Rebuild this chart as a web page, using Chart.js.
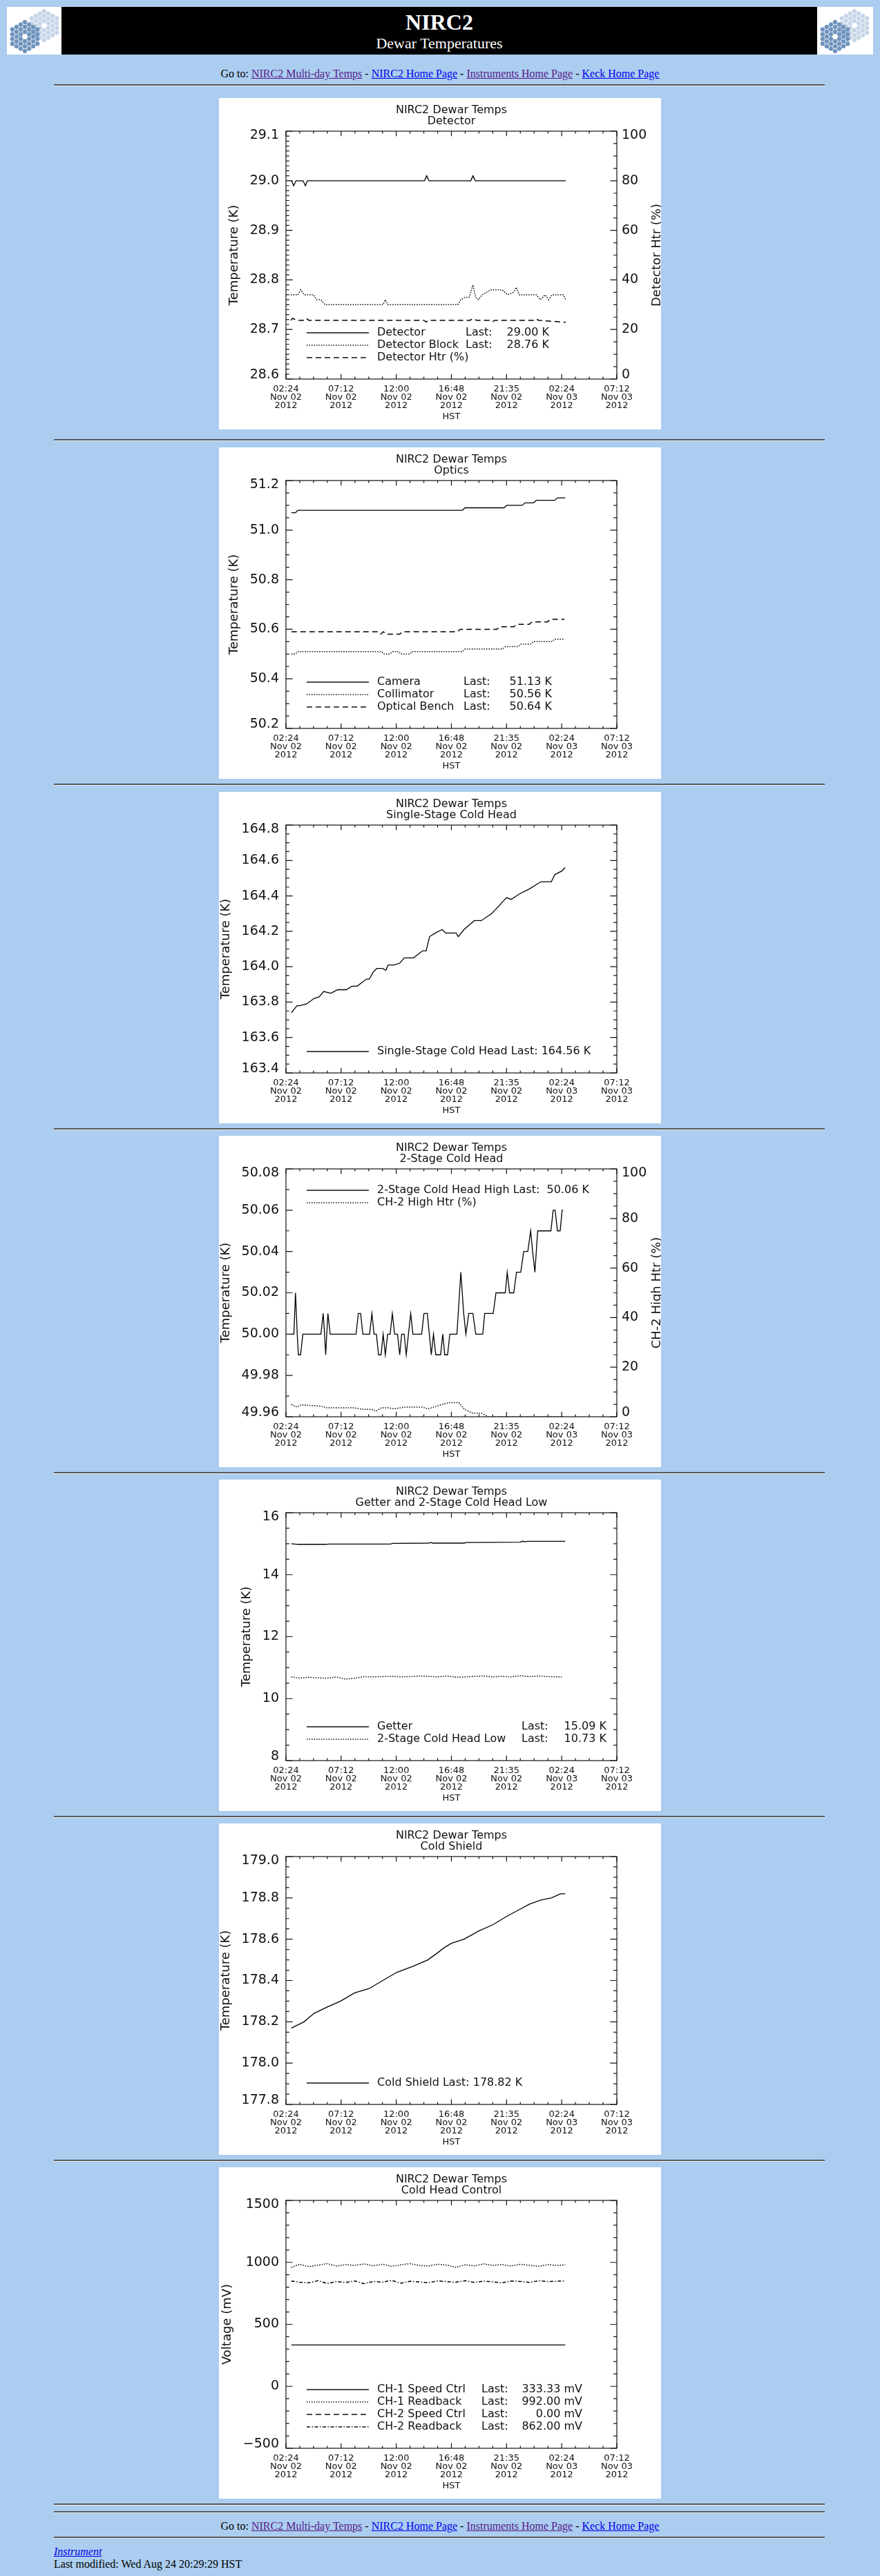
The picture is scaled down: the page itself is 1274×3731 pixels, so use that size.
<!DOCTYPE html>
<html>
<head>
<meta charset="utf-8">
<title>NIRC2 Dewar Temperatures</title>
<script src="https://cdn.jsdelivr.net/npm/chart.js@4.4.1/dist/chart.umd.min.js"></script>
<style>
  body { margin: 0; background: #abcdef; font-family: "Liberation Serif", "Times New Roman", serif; color: #000; }
  #page { position: relative; width: 1274px; height: 3731px; overflow: hidden; }
  .hr { position: absolute; left: 78px; width: 1116px; height: 1px; background: #6a6a6a; border-top: 1px solid #4a4a4a; border-bottom: 1px solid #e4ecf6; }
  .goto { position: absolute; left: 0; width: 1274px; height: 20px; line-height: 20px; text-align: center; font-size: 16px; }
  a { text-decoration: underline; }
  a.v { color: #551a8b; }
  a.u { color: #0000ee; }
  canvas.panel { position: absolute; left: 317px; }
  .logo { position: absolute; top: 10px; }
  #bar { position: absolute; left: 89px; top: 10px; width: 1094px; height: 69px; background: #000; color: #fff; text-align: center; }
</style>
</head>
<body>
<div id="page">
  <canvas class="logo" id="logoL" width="79" height="69" style="left:10px"></canvas>
  <div id="bar">
    <div style="position:absolute;left:0;right:0;top:4px;height:36px;line-height:36px;font-size:32px;font-weight:bold;">NIRC2</div>
    <div style="position:absolute;left:0;right:0;top:41px;height:24px;line-height:24px;font-size:22px;">Dewar Temperatures</div>
  </div>
  <canvas class="logo" id="logoR" width="81" height="69" style="left:1183px"></canvas>

  <div class="goto" style="top:97px">Go to: <a class="v" href="#">NIRC2 Multi-day Temps</a> - <a class="u" href="#">NIRC2 Home Page</a> - <a class="v" href="#">Instruments Home Page</a> - <a class="u" href="#">Keck Home Page</a></div>
  <div class="hr" style="top:122px"></div>

  <canvas class="panel" id="c1" width="640" height="480" style="top:142px"></canvas>
  <div class="hr" style="top:636px"></div>
  <canvas class="panel" id="c2" width="640" height="480" style="top:648px"></canvas>
  <div class="hr" style="top:1135px"></div>
  <canvas class="panel" id="c3" width="640" height="480" style="top:1147px"></canvas>
  <div class="hr" style="top:1634px"></div>
  <canvas class="panel" id="c4" width="640" height="480" style="top:1645px"></canvas>
  <div class="hr" style="top:2132px"></div>
  <canvas class="panel" id="c5" width="640" height="480" style="top:2143px"></canvas>
  <div class="hr" style="top:2630px"></div>
  <canvas class="panel" id="c6" width="640" height="480" style="top:2641px"></canvas>
  <div class="hr" style="top:3128px"></div>
  <canvas class="panel" id="c7" width="640" height="480" style="top:3139px"></canvas>
  <div class="hr" style="top:3626px"></div>
  <div class="hr" style="top:3637px"></div>

  <div class="goto" style="top:3649px">Go to: <a class="v" href="#">NIRC2 Multi-day Temps</a> - <a class="u" href="#">NIRC2 Home Page</a> - <a class="v" href="#">Instruments Home Page</a> - <a class="u" href="#">Keck Home Page</a></div>
  <div class="hr" style="top:3674px"></div>
  <div style="position:absolute;left:78px;top:3686px;height:20px;line-height:20px;font-size:16px;font-style:italic;"><a class="u" href="#">Instrument</a></div>
  <div style="position:absolute;left:78px;top:3704px;height:20px;line-height:20px;font-size:16px;">Last modified: Wed Aug 24 20:29:29 HST</div>
</div>

<script>
const INK = "#111";
const FONT = '"DejaVu Sans", "Liberation Sans", sans-serif';

// x axis is hours after 02:24 HST, Nov 02 2012
const xTickHours = [0, 4.8, 9.6, 14.4, 19.2, 24.0, 28.8];
const xTickLabels = [
  ["02:24", "Nov 02", "2012"], ["07:12", "Nov 02", "2012"], ["12:00", "Nov 02", "2012"],
  ["16:48", "Nov 02", "2012"], ["21:35", "Nov 02", "2012"], ["02:24", "Nov 03", "2012"],
  ["07:12", "Nov 03", "2012"]
];
const pctTicks = ["0", "20", "40", "60", "80", "100"];

// Detector
const detTicks = ["28.6", "28.7", "28.8", "28.9", "29.0", "29.1"];
const detT = [0.42, 0.50, 0.67, 0.87, 1.49, 1.69, 1.86, 12.05, 12.25, 12.45, 16.08, 16.28, 16.48, 24.35];
const detV = [29.00, 29.00, 28.99, 29.00, 29.00, 28.99, 29.00, 29.00, 29.01, 29.00, 29.00, 29.01, 29.00, 29.00];
const blkT = [0.42, 1.04, 1.29, 1.59, 2.41, 2.66, 3.03, 3.40, 8.45, 8.65, 8.87, 14.96, 15.21, 15.58, 15.95, 16.28, 16.50,
  16.75, 17.07, 17.45, 17.82, 18.81, 19.31, 19.81, 20.05, 20.30, 20.68, 21.79, 22.16, 22.54, 22.86, 23.16, 24.15, 24.35];
const blkV = [28.77, 28.77, 28.78, 28.77, 28.77, 28.76, 28.76, 28.75, 28.75, 28.76, 28.75, 28.75, 28.76, 28.765, 28.765, 28.79, 28.765,
  28.76, 28.77, 28.775, 28.78, 28.78, 28.77, 28.775, 28.785, 28.77, 28.77, 28.77, 28.76, 28.77, 28.76, 28.77, 28.77, 28.76];
const dhtrT = [0.42, 0.6, 0.9, 1.5, 1.75, 2.0, 12.0, 12.2, 12.4, 16.0, 16.3, 16.6, 17.8, 18.0, 18.2, 21.6, 21.8, 22.0, 24.35];
const dhtrV = [23.7, 24.5, 23.7, 23.7, 24.5, 23.7, 23.7, 23.0, 23.7, 23.7, 24.3, 23.7, 23.7, 23.2, 23.7, 23.7, 24.2, 23.7, 22.9];

// Optics
const optTicks = ["50.2", "50.4", "50.6", "50.8", "51.0", "51.2"];
const camT = [0.47, 0.83, 1.03, 15.34, 15.59, 18.97, 19.22, 20.56, 20.81, 21.54, 21.79, 23.38, 23.63, 24.31];
const camV = [51.07, 51.07, 51.08, 51.08, 51.09, 51.09, 51.10, 51.10, 51.11, 51.11, 51.12, 51.12, 51.13, 51.13];
const colT = [0.47, 0.83, 1.03, 8.31, 8.55, 9.04, 9.29, 9.78, 10.02, 10.76, 11.0, 15.34, 15.59, 18.85, 19.09, 20.2, 20.44,
  21.3, 21.54, 23.14, 23.38, 24.17];
const colV = [50.50, 50.50, 50.51, 50.51, 50.50, 50.50, 50.51, 50.51, 50.50, 50.50, 50.51, 50.51, 50.52, 50.52, 50.53, 50.53, 50.54,
  50.54, 50.55, 50.55, 50.56, 50.56];
const benT = [0.47, 7.94, 8.24, 8.48, 8.73, 9.9, 10.15, 14.93, 15.17, 18.36, 18.6, 19.83, 20.07, 21.18, 21.42, 22.77, 23.01, 24.24];
const benV = [50.59, 50.59, 50.58, 50.59, 50.58, 50.58, 50.59, 50.59, 50.60, 50.60, 50.61, 50.61, 50.62, 50.62, 50.63, 50.63, 50.64, 50.64];

// Single-stage cold head
const sscTicks = ["163.4", "163.6", "163.8", "164.0", "164.2", "164.4", "164.6", "164.8"];
const sscT = [0.47, 0.96, 1.2, 1.81, 2.43, 2.9, 3.28, 3.9, 4.5, 5.25, 5.74, 6.2, 7.0, 7.25, 7.6, 7.9, 8.4, 8.7, 8.9, 9.4,
  9.9, 10.3, 11.1, 11.9, 12.2, 12.5, 13.0, 13.6, 13.9, 14.8, 15.0, 15.5, 16.4, 17.0, 17.9, 18.2, 19.2, 19.6, 20.3, 21.2,
  22.2, 23.1, 23.4, 24.0, 24.3];
const sscV = [163.74, 163.78, 163.78, 163.79, 163.82, 163.83, 163.86, 163.85, 163.87, 163.87, 163.89, 163.89, 163.93, 163.93, 163.97, 163.99, 163.99, 163.98, 164.01, 164.01,
  164.02, 164.05, 164.05, 164.09, 164.09, 164.17, 164.19, 164.21, 164.19, 164.19, 164.17, 164.21, 164.26, 164.26, 164.30, 164.32, 164.39, 164.38, 164.41, 164.44,
  164.48, 164.48, 164.52, 164.54, 164.56];

// 2-stage cold head
const tscTicks = ["49.96", "49.98", "50.00", "50.02", "50.04", "50.06", "50.08"];
const tscT = [0.47, 0.69, 0.83, 0.98, 1.08, 1.27, 1.47, 3.04, 3.24, 3.36,
  3.46, 3.55, 3.65, 3.85, 6.10, 6.30, 6.50, 6.69, 7.28, 7.48,
  7.67, 7.87, 8.06, 8.28, 8.46, 8.65, 8.85, 9.07, 9.26, 9.46,
  9.71, 9.90, 10.07, 10.29, 10.47, 10.66, 10.86, 11.05, 11.81, 12.01,
  12.30, 12.48, 12.65, 12.84, 13.04, 13.46, 13.65, 13.82, 14.07, 14.26,
  14.88, 15.22, 15.47, 15.66, 15.91, 16.27, 16.52, 17.13, 17.30, 18.04,
  18.28, 19.09, 19.26, 19.46, 19.83, 20.07, 20.44, 20.69, 21.05, 21.30,
  21.47, 21.67, 21.91, 23.06, 23.26, 23.43, 23.63, 23.87, 24.04, 24.12];
const tscV = [50.00, 50.00, 50.02, 50.00, 49.99, 49.99, 50.00, 50.00, 50.01, 50.00,
  49.99, 50.00, 50.01, 50.00, 50.00, 50.01, 50.01, 50.00, 50.00, 50.01,
  50.00, 50.00, 49.99, 49.99, 50.00, 49.99, 50.00, 50.00, 50.01, 50.00,
  50.00, 49.99, 50.00, 50.00, 49.99, 50.00, 50.01, 50.00, 50.00, 50.01,
  50.01, 50.00, 49.99, 50.00, 49.99, 49.99, 50.00, 49.99, 49.99, 50.00,
  50.00, 50.03, 50.01, 50.00, 50.01, 50.01, 50.00, 50.00, 50.01, 50.01,
  50.02, 50.02, 50.03, 50.02, 50.02, 50.03, 50.03, 50.04, 50.04, 50.05,
  50.04, 50.03, 50.05, 50.05, 50.06, 50.06, 50.05, 50.05, 50.06, 50.06];
const chtrT = [0.47, 0.96, 1.32, 3.04, 3.53, 5.98, 6.72, 7.45, 7.82, 8.31, 8.92, 9.41, 10.39, 11.86, 12.35, 13.08, 13.82,
  14.31, 15.05, 15.54, 16.27, 17.01, 17.25, 17.62, 24.17];
const chtrV = [5.0, 3.9, 4.8, 4.3, 3.6, 3.6, 3.0, 3.0, 2.3, 3.6, 3.6, 3.2, 3.9, 3.9, 3.2, 4.2, 5.3,
  5.7, 5.7, 3.0, 1.4, 1.4, 0.9, 0, 0];

// Getter and 2-stage cold head low
const getTicks = ["8", "10", "12", "14", "16"];
const getT = [0.47, 1.0, 3.5, 3.7, 9.1, 9.3, 12.4, 12.6, 12.8, 15.5, 15.7, 20.4, 20.6, 20.9, 21.0, 24.3];
const getV = [15.00, 14.98, 14.98, 14.99, 14.99, 15.01, 15.02, 15.04, 15.02, 15.02, 15.04, 15.05, 15.08, 15.06, 15.08, 15.08];
const lowT = [0.47, 1.2, 2.0, 2.8, 3.6, 4.4, 5.2, 6.0, 6.8, 7.6, 8.4, 9.2, 10.0, 10.8, 11.6, 12.4, 13.2, 14.0, 14.8, 15.6,
  16.4, 17.2, 18.0, 18.8, 19.6, 20.4, 21.2, 22.0, 22.8, 23.6, 24.0];
const lowV = [10.70, 10.66, 10.69, 10.67, 10.66, 10.70, 10.63, 10.66, 10.71, 10.70, 10.71, 10.72, 10.70, 10.71, 10.73, 10.72, 10.70, 10.73, 10.69, 10.70,
  10.72, 10.73, 10.70, 10.72, 10.70, 10.74, 10.71, 10.73, 10.71, 10.70, 10.70];

// Cold shield
const shTicks = ["177.8", "178.0", "178.2", "178.4", "178.6", "178.8", "179.0"];
const shT = [0.47, 1.57, 2.43, 3.53, 4.75, 5.98, 7.2, 8.43, 9.66, 11.1, 12.35, 13.1, 13.8, 14.4, 15.5, 16.8, 18.0, 19.2,
  20.2, 21.2, 22.2, 23.1, 23.9, 24.3];
const shV = [178.17, 178.20, 178.24, 178.27, 178.30, 178.34, 178.36, 178.40, 178.44, 178.47, 178.50, 178.53, 178.56, 178.58, 178.60, 178.64, 178.67, 178.71,
  178.74, 178.77, 178.79, 178.80, 178.82, 178.82];

// Cold head control
const volTicks = ["\u2212500", "0", "500", "1000", "1500"];
const ch1sT = [0.47, 24.31];
const ch1sV = [333.33, 333.33];
const ch2sT = [];
const ch2sV = [];
const rdT = [0.47, 1.2, 2.0, 2.8, 3.6, 4.4, 5.2, 6.0, 6.8, 7.6, 8.4, 9.2, 10.0, 10.8, 11.6, 12.4, 13.2, 14.0, 14.8, 15.6,
  16.4, 17.2, 18.0, 18.8, 19.6, 20.4, 21.2, 22.0, 22.8, 23.6, 24.31];
const ch1rV = [960, 985, 965, 978, 990, 970, 982, 975, 988, 972, 985, 968, 980, 990, 975, 970, 985, 978, 960, 980,
  972, 988, 975, 982, 970, 985, 976, 968, 982, 975, 980];
const ch2rV = [850, 840, 835, 852, 830, 845, 838, 850, 828, 846, 840, 855, 832, 848, 842, 836, 850, 845, 840, 852,
  838, 848, 843, 835, 850, 846, 838, 852, 845, 848, 850];

const SOLID = [], DOTTED = [1.5, 2], DASHED = [8, 5], DASHDOT = [5, 2.5, 1.5, 2.5];

Chart.defaults.font.family = FONT;
Chart.defaults.color = INK;

const num = s => parseFloat(s.replace("\u2212", "-"));
const pts = (t, v) => t.map((x, i) => ({ x: x, y: v[i] }));

function minorVals(major, n) {
  const out = [];
  for (let k = 0; k < major.length - 1; k++)
    for (let j = 1; j < n; j++) out.push(major[k] + (major[k + 1] - major[k]) * j / n);
  return out;
}

// IDL-style box, inward ticks, axis labels, titles and legend
function frame(cfg) {
  return {
    id: "frame",
    beforeDraw(chart) {
      const c = chart.ctx;
      c.save();
      c.fillStyle = "#fff";
      c.fillRect(0, 0, chart.width, chart.height);
      c.restore();
    },
    afterDraw(chart) {
      const c = chart.ctx, a = chart.chartArea;
      const sx = chart.scales.x, sy = chart.scales.y, sr = chart.scales.y1 || sy;
      const w = a.right - a.left, h = a.bottom - a.top;
      const yLen = 0.02 * w, xLen = 0.02 * h;
      c.save();
      c.strokeStyle = INK;
      c.lineWidth = 1.2;
      c.setLineDash([]);
      c.strokeRect(a.left, a.top, w, h);
      c.beginPath();
      const xt = (vals, len) => vals.forEach(v => {
        const p = sx.getPixelForValue(v);
        c.moveTo(p, a.bottom); c.lineTo(p, a.bottom - len);
        c.moveTo(p, a.top); c.lineTo(p, a.top + len);
      });
      xt(xTickHours, xLen);
      xt(minorVals(xTickHours, 4), xLen / 2);
      const yt = (sc, vals, len, right) => vals.forEach(v => {
        const p = sc.getPixelForValue(v);
        const x0 = right ? a.right : a.left;
        c.moveTo(x0, p); c.lineTo(x0 + (right ? -len : len), p);
      });
      const yMaj = cfg.yLabels.map(num);
      const rMaj = (cfg.y1Labels || cfg.yLabels).map(num);
      yt(sy, yMaj, yLen, false);
      yt(sy, minorVals(yMaj, cfg.yMinor), yLen / 2, false);
      yt(sr, rMaj, yLen, true);
      yt(sr, minorVals(rMaj, cfg.y1Labels ? 4 : cfg.yMinor), yLen / 2, true);
      c.stroke();

      c.fillStyle = INK;
      const cx = (a.left + a.right) / 2, cy = (a.top + a.bottom) / 2;

      // y tick labels; the end labels sit inside the axis range as IDL draws them
      c.font = "19px " + FONT;
      c.textBaseline = "middle";
      const yLab = (sc, labels, x, align) => {
        c.textAlign = align;
        labels.forEach((s, i) => {
          const shift = i === 0 ? -6 : (i === labels.length - 1 ? 6 : 0);
          c.fillText(s, x, sc.getPixelForValue(num(s)) + shift);
        });
      };
      yLab(sy, cfg.yLabels, a.left - 10, "right");
      if (cfg.y1Labels) yLab(sr, cfg.y1Labels, a.right + 7, "left");
      const maxW = Math.max(...cfg.yLabels.map(s => c.measureText(s).width));

      c.textAlign = "center";
      c.font = "16px " + FONT;
      c.fillText(cfg.title[0], cx, 18);
      c.fillText(cfg.title[1], cx, 34);
      c.font = "13px " + FONT;
      c.fillText("HST", cx, 462);

      // y titles
      c.font = "18px " + FONT;
      c.save();
      c.translate(a.left - 10 - maxW - 22, cy);
      c.rotate(-Math.PI / 2);
      c.fillText(cfg.yTitle, 0, 0);
      c.restore();
      if (cfg.y1Title) {
        c.save();
        c.translate(639, cy);
        c.rotate(-Math.PI / 2);
        c.textBaseline = "alphabetic";
        c.fillText(cfg.y1Title, 0, 0);
        c.restore();
      }

      // legend
      const lg = cfg.legend, n = lg.rows.length;
      c.font = "16px " + FONT;
      c.lineWidth = 1.3;
      lg.rows.forEach((r, i) => {
        const y = lg.pos === "top" ? 79 + i * 18 : 376 - (n - 1 - i) * 18;
        c.setLineDash(r.dash);
        c.beginPath();
        c.moveTo(127, y); c.lineTo(217, y);
        c.stroke();
        c.textAlign = "left";
        c.fillText(r.name, 229, y);
        if (r.last) {
          c.fillText("Last:", lg.lastX, y);
          c.textAlign = "right";
          c.fillText(r.last, lg.valEnd, y);
        }
      });
      c.restore();
    }
  };
}

function makeChart(cfg) {
  const datasets = cfg.series.filter(s => s.t.length).map(s => ({
    data: pts(s.t, s.v),
    yAxisID: s.axis || "y",
    borderColor: "#000",
    borderWidth: s.dash.length ? 1.5 : 1.3,
    borderDash: s.dash,
    pointRadius: 0,
    tension: 0,
    fill: false
  }));
  const yFirst = num(cfg.yLabels[0]), yLast = num(cfg.yLabels[cfg.yLabels.length - 1]);
  const scales = {
    x: {
      type: "linear", min: 0, max: 28.8,
      grid: { display: false, drawTicks: false }, border: { display: false },
      afterBuildTicks: s => { s.ticks = xTickHours.map(v => ({ value: v })); },
      afterFit: s => { s.height = 73; },
      ticks: {
        autoSkip: false, maxRotation: 0, padding: 9, color: INK,
        font: { family: FONT, size: 13, lineHeight: 0.9 },
        callback: (v, i) => xTickLabels[i]
      }
    },
    y: {
      type: "linear", position: "left", min: yFirst, max: yLast,
      grid: { display: false, drawTicks: false }, border: { display: false },
      afterBuildTicks: s => { s.ticks = cfg.yLabels.map(l => ({ value: num(l) })); },
      afterFit: s => { s.width = 97; },
      ticks: { display: false }
    }
  };
  if (cfg.y1Labels) {
    scales.y1 = {
      type: "linear", position: "right", min: 0, max: 100,
      grid: { display: false, drawTicks: false }, border: { display: false },
      afterBuildTicks: s => { s.ticks = cfg.y1Labels.map(l => ({ value: num(l) })); },
      afterFit: s => { s.width = 64; },
      ticks: { display: false }
    };
  }
  new Chart(document.getElementById(cfg.id), {
    type: "line",
    data: { datasets: datasets },
    options: {
      responsive: false,
      animation: false,
      events: [],
      layout: { padding: { top: 48, left: 0, bottom: 0, right: cfg.y1Labels ? 0 : 64 } },
      plugins: { legend: { display: false }, tooltip: { enabled: false } },
      scales: scales
    },
    plugins: [frame(cfg)]
  });
}

makeChart({
  id: "c1", title: ["NIRC2 Dewar Temps", "Detector"],
  yTitle: "Temperature (K)", yLabels: detTicks, yMinor: 10,
  y1Title: "Detector Htr (%)", y1Labels: pctTicks,
  series: [
    { t: detT, v: detV, dash: SOLID },
    { t: blkT, v: blkV, dash: DOTTED },
    { t: dhtrT, v: dhtrV, dash: DASHED, axis: "y1" }
  ],
  legend: { pos: "bottom", lastX: 357, valEnd: 478, rows: [
    { name: "Detector", dash: SOLID, last: "29.00 K" },
    { name: "Detector Block", dash: DOTTED, last: "28.76 K" },
    { name: "Detector Htr (%)", dash: DASHED }
  ] }
});

makeChart({
  id: "c2", title: ["NIRC2 Dewar Temps", "Optics"],
  yTitle: "Temperature (K)", yLabels: optTicks, yMinor: 4,
  series: [
    { t: camT, v: camV, dash: SOLID },
    { t: colT, v: colV, dash: DOTTED },
    { t: benT, v: benV, dash: DASHED }
  ],
  legend: { pos: "bottom", lastX: 354, valEnd: 482, rows: [
    { name: "Camera", dash: SOLID, last: "51.13 K" },
    { name: "Collimator", dash: DOTTED, last: "50.56 K" },
    { name: "Optical Bench", dash: DASHED, last: "50.64 K" }
  ] }
});

makeChart({
  id: "c3", title: ["NIRC2 Dewar Temps", "Single-Stage Cold Head"],
  yTitle: "Temperature (K)", yLabels: sscTicks, yMinor: 4,
  series: [{ t: sscT, v: sscV, dash: SOLID }],
  legend: { pos: "bottom", rows: [
    { name: "Single-Stage Cold Head Last: 164.56 K", dash: SOLID }
  ] }
});

makeChart({
  id: "c4", title: ["NIRC2 Dewar Temps", "2-Stage Cold Head"],
  yTitle: "Temperature (K)", yLabels: tscTicks, yMinor: 2,
  y1Title: "CH-2 High Htr (%)", y1Labels: pctTicks,
  series: [
    { t: tscT, v: tscV, dash: SOLID },
    { t: chtrT, v: chtrV, dash: DOTTED, axis: "y1" }
  ],
  legend: { pos: "top", rows: [
    { name: "2-Stage Cold Head High Last:  50.06 K", dash: SOLID },
    { name: "CH-2 High Htr (%)", dash: DOTTED }
  ] }
});

makeChart({
  id: "c5", title: ["NIRC2 Dewar Temps", "Getter and 2-Stage Cold Head Low"],
  yTitle: "Temperature (K)", yLabels: getTicks, yMinor: 4,
  series: [
    { t: getT, v: getV, dash: SOLID },
    { t: lowT, v: lowV, dash: DOTTED }
  ],
  legend: { pos: "bottom", lastX: 438, valEnd: 561, rows: [
    { name: "Getter", dash: SOLID, last: "15.09 K" },
    { name: "2-Stage Cold Head Low", dash: DOTTED, last: "10.73 K" }
  ] }
});

makeChart({
  id: "c6", title: ["NIRC2 Dewar Temps", "Cold Shield"],
  yTitle: "Temperature (K)", yLabels: shTicks, yMinor: 4,
  series: [{ t: shT, v: shV, dash: SOLID }],
  legend: { pos: "bottom", rows: [
    { name: "Cold Shield Last: 178.82 K", dash: SOLID }
  ] }
});

makeChart({
  id: "c7", title: ["NIRC2 Dewar Temps", "Cold Head Control"],
  yTitle: "Voltage (mV)", yLabels: volTicks, yMinor: 5,
  series: [
    { t: ch1sT, v: ch1sV, dash: SOLID },
    { t: rdT, v: ch1rV, dash: DOTTED },
    { t: ch2sT, v: ch2sV, dash: DASHED },
    { t: rdT, v: ch2rV, dash: DASHDOT }
  ],
  legend: { pos: "bottom", lastX: 380, valEnd: 526, rows: [
    { name: "CH-1 Speed Ctrl", dash: SOLID, last: "333.33 mV" },
    { name: "CH-1 Readback", dash: DOTTED, last: "992.00 mV" },
    { name: "CH-2 Speed Ctrl", dash: DASHED, last: "0.00 mV" },
    { name: "CH-2 Readback", dash: DASHDOT, last: "862.00 mV" }
  ] }
});

// Keck segmented-mirror logos
function hexMirror(c, cx, cy, col) {
  const r = 3.6, sq = Math.sqrt(3);
  for (let q = -3; q <= 3; q++) {
    for (let s = -3; s <= 3; s++) {
      const d = Math.max(Math.abs(q), Math.abs(s), Math.abs(q + s));
      if (d > 3) continue;
      const x = cx + 1.5 * r * q * 1.12, y = cy + sq * r * (s + q / 2) * 1.12;
      c.beginPath();
      for (let k = 0; k < 6; k++) {
        const an = Math.PI / 3 * k;
        c.lineTo(x + r * Math.cos(an), y + r * Math.sin(an));
      }
      c.closePath();
      c.fillStyle = d === 0 ? "#fff" : col;
      c.fill();
    }
  }
}
function drawLogo(id) {
  const cv = document.getElementById(id), c = cv.getContext("2d");
  c.fillStyle = "#fff";
  c.fillRect(0, 0, cv.width, cv.height);
  hexMirror(c, 54, 27, "#c6d5e7");
  hexMirror(c, 26, 43, "#6f93bd");
}
drawLogo("logoL");
drawLogo("logoR");
</script>
</body>
</html>
